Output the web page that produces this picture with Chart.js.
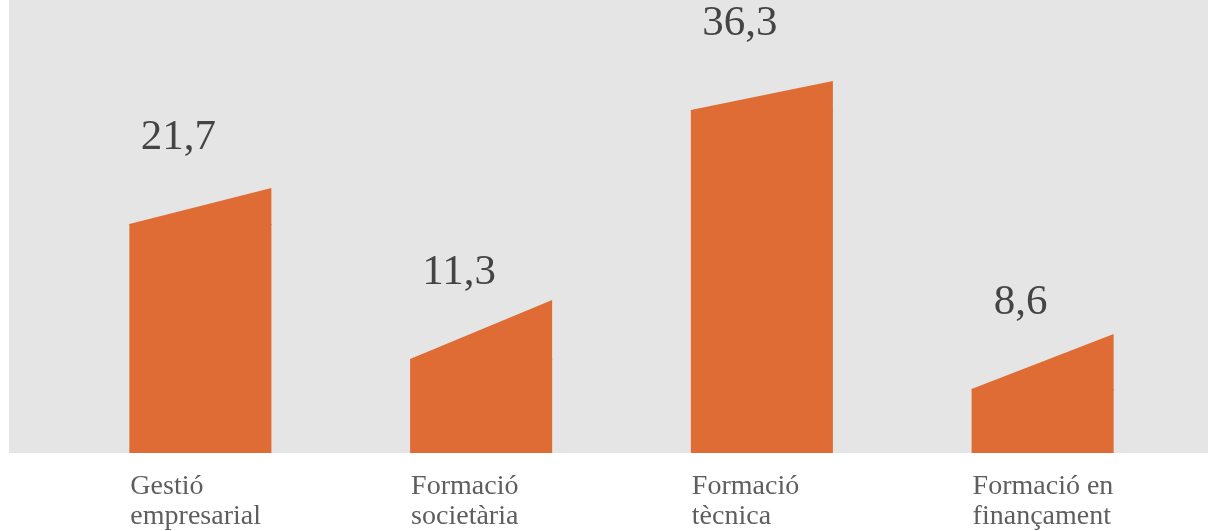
<!DOCTYPE html>
<html>
<head>
<meta charset="utf-8">
<script src="https://cdn.jsdelivr.net/npm/chart.js@4"></script>
<style>
  html, body { margin: 0; padding: 0; background: #ffffff; }
  #canvas { display: block; }
</style>
</head>
<body>
<canvas id="canvas" width="1208" height="531"></canvas>
<script>
// categories, split in two lines like the original
const categories = [
  ['Gestió', 'empresarial'],
  ['Formació', 'societària'],
  ['Formació', 'tècnica'],
  ['Formació en', 'finançament'],
];
// values printed above the bars
const valueLabels = ['21,7', '11,3', '36,3', '8,6'];
// bar heights (left edge and right edge of the slanted top)
const barLeft = [22.9, 9.4, 34.3, 6.4];
const barRight = [26.5, 15.3, 37.2, 11.9];

const orange = '#df6b35';
const gray = '#e5e5e5';
const serif = "'Liberation Serif', 'DejaVu Serif', serif";

// fondo gris + topes inclinados + textos
const slantPlugin = {
  id: 'slant',
  beforeDraw(chart) {
    const { ctx, chartArea } = chart;
    ctx.save();
    ctx.fillStyle = gray;
    ctx.fillRect(9, 0, chart.width - 9, chartArea.bottom);
    ctx.restore();
  },
  afterDatasetsDraw(chart) {
    const { ctx } = chart;
    const yScale = chart.scales.y;
    const meta = chart.getDatasetMeta(0);
    ctx.save();
    meta.data.forEach((bar, i) => {
      const xl = bar.x - bar.width / 2;
      const xr = bar.x + bar.width / 2;
      const yl = yScale.getPixelForValue(barLeft[i]);
      const yr = yScale.getPixelForValue(barRight[i]);
      ctx.fillStyle = orange;
      ctx.beginPath();
      ctx.moveTo(xl, yl);
      ctx.lineTo(xr, yr);
      ctx.lineTo(xr, yl + 1);
      ctx.lineTo(xl, yl + 1);
      ctx.closePath();
      ctx.fill();

      // valore sopra la barra
      ctx.fillStyle = '#444444';
      ctx.font = '300 43px ' + serif;
      ctx.textAlign = 'center';
      ctx.textBaseline = 'middle';
      ctx.fillText(valueLabels[i], bar.x - 22, yl - 86);

      // etichetta categoria sotto
      ctx.fillStyle = '#5e5e5e';
      ctx.font = '300 28px ' + serif;
      ctx.textAlign = 'left';
      ctx.textBaseline = 'alphabetic';
      categories[i].forEach((line, j) => {
        ctx.fillText(line, xl + 1, chart.chartArea.bottom + 41 + j * 30);
      });
    });
    ctx.restore();
  },
};

new Chart(document.getElementById('canvas'), {
  type: 'bar',
  data: {
    labels: categories.map((c) => c.join(' ')),
    datasets: [{
      data: barLeft,
      backgroundColor: orange,
      borderWidth: 0,
      barPercentage: 0.506,
      categoryPercentage: 1,
    }],
  },
  options: {
    responsive: false,
    animation: false,
    layout: { padding: { left: 60, right: 25, top: 0, bottom: 78 } },
    plugins: {
      legend: { display: false },
      tooltip: { enabled: false },
    },
    scales: {
      x: { display: false },
      y: { display: false, min: 0, max: 45.3 },
    },
  },
  plugins: [slantPlugin],
});
</script>
</body>
</html>
